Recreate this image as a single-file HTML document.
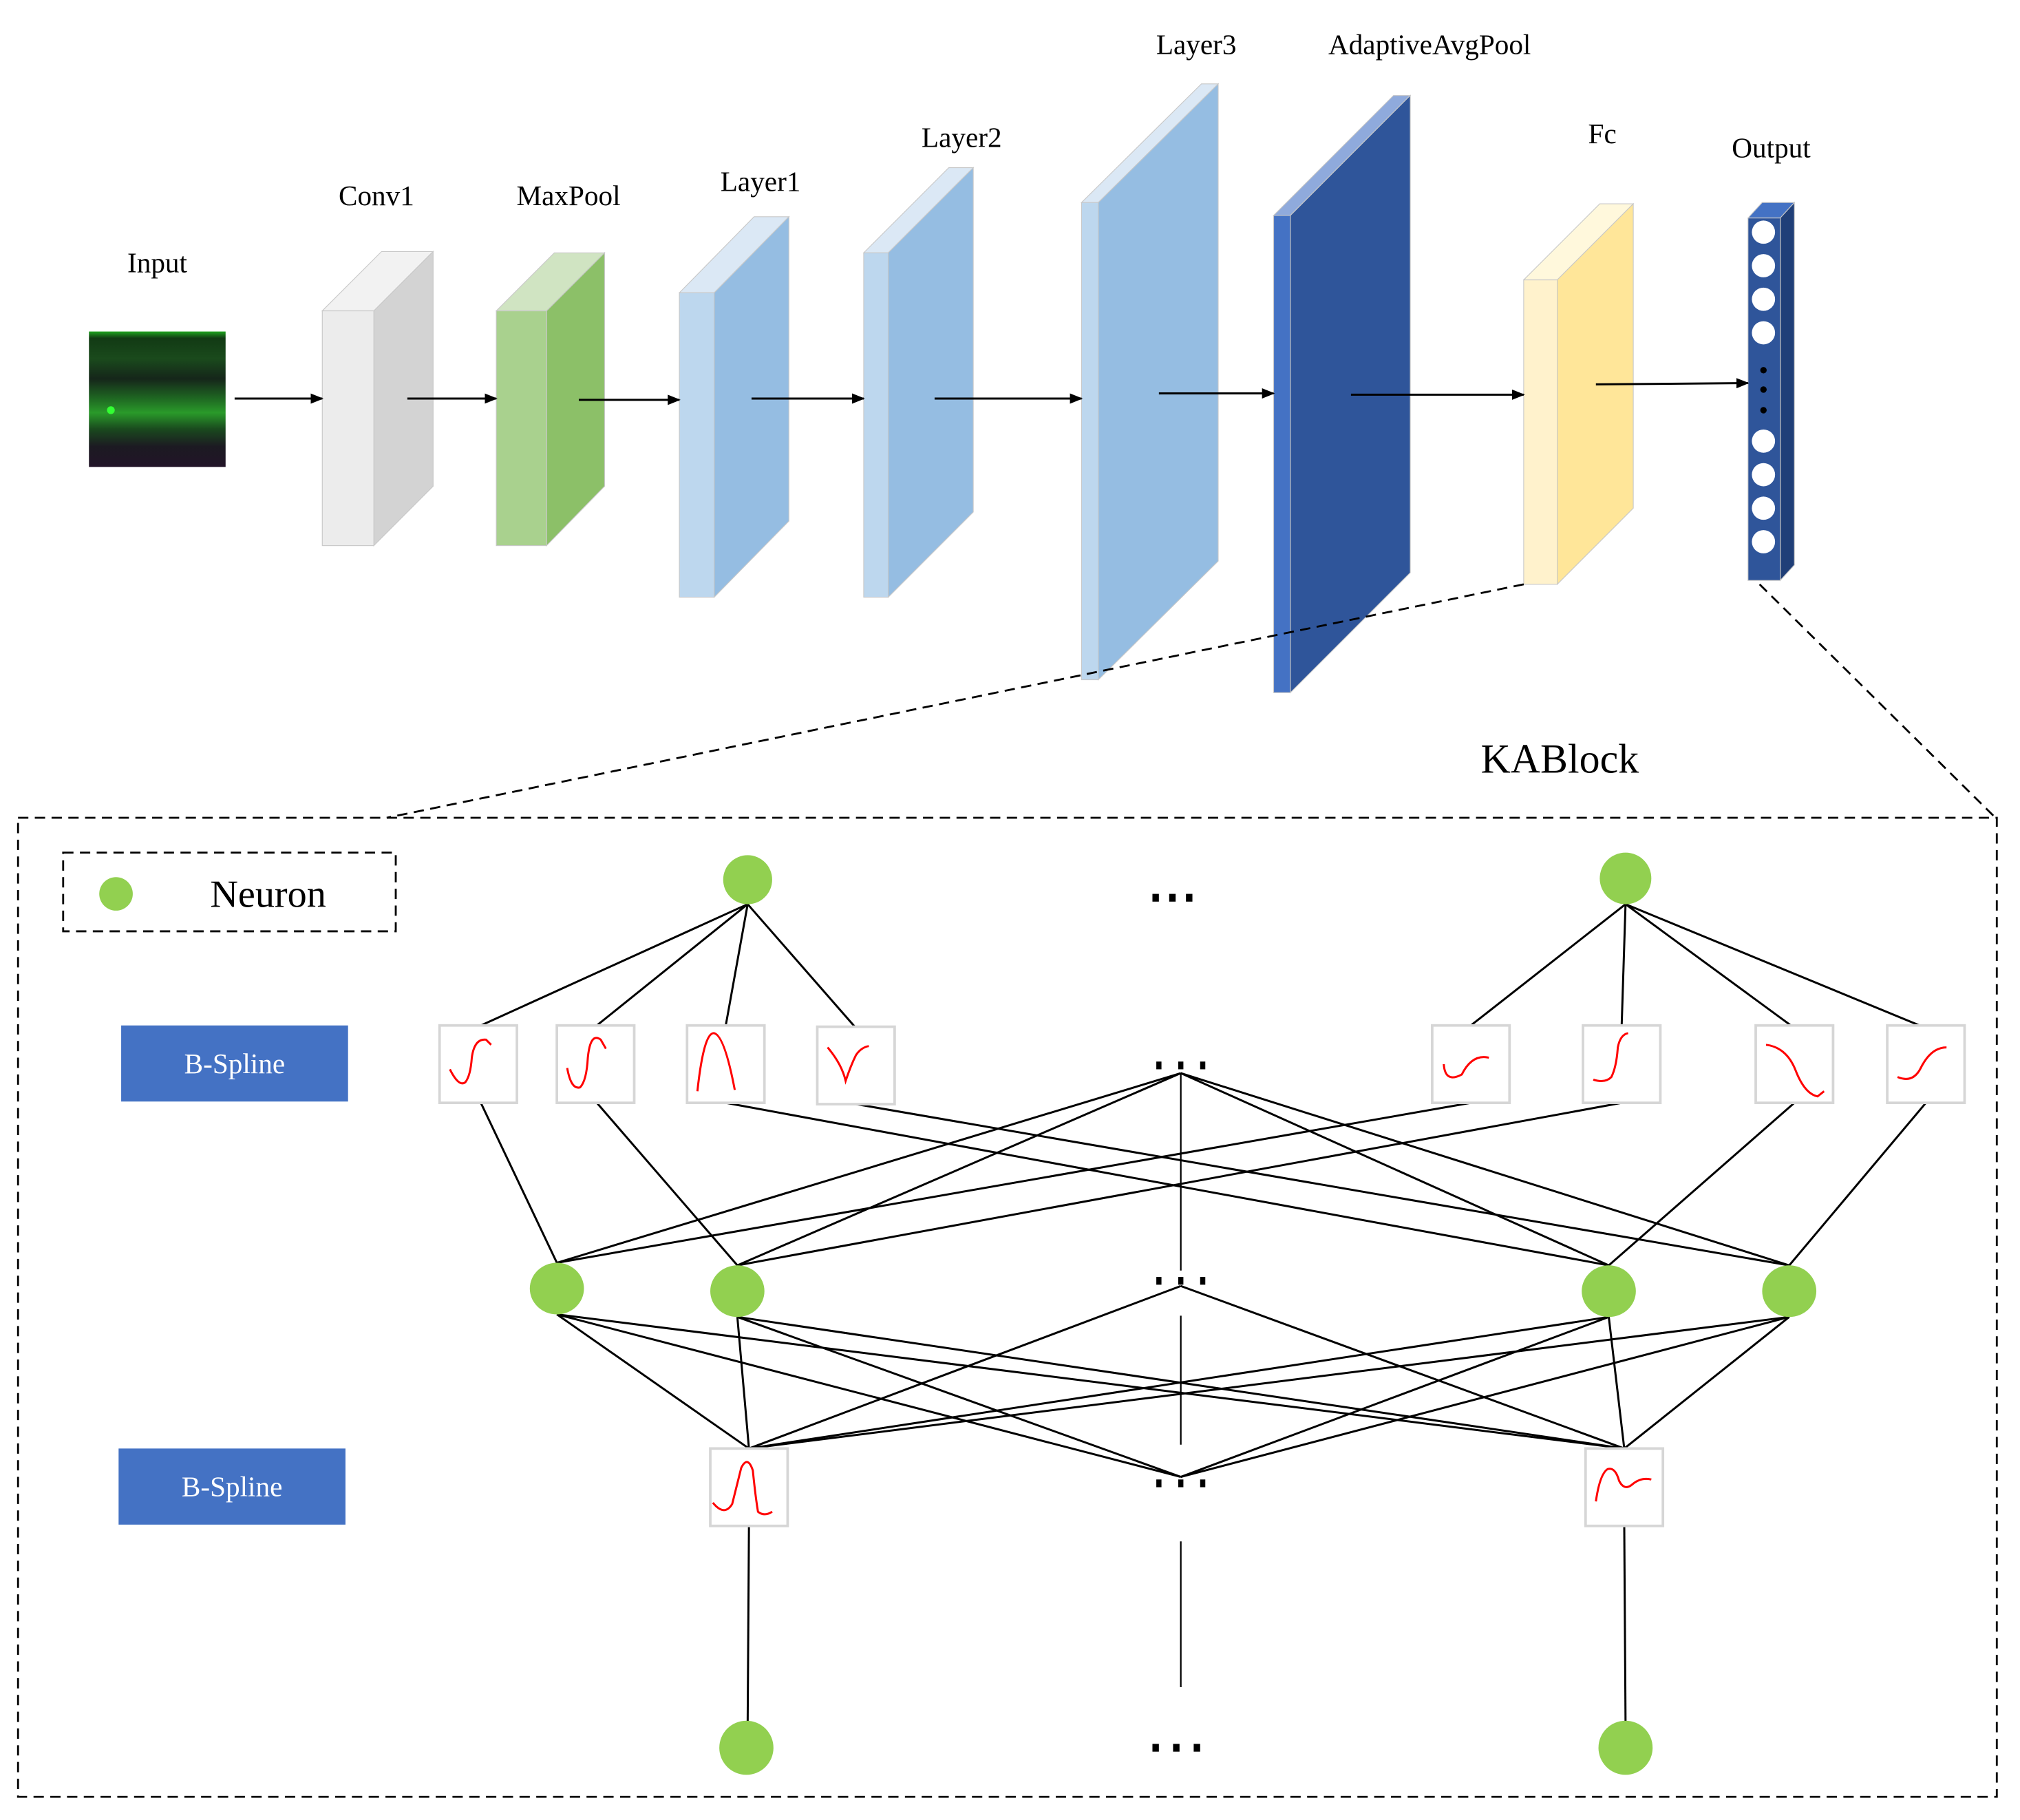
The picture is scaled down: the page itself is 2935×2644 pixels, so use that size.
<!DOCTYPE html>
<html><head><meta charset="utf-8"><style>html,body{margin:0;padding:0;background:#fff}svg{display:block}</style></head><body>
<svg width="2935" height="2644" viewBox="0 0 1567 1411" preserveAspectRatio="none" xmlns="http://www.w3.org/2000/svg" font-family="Liberation Serif, serif">
<defs>
<marker id="ah" markerWidth="10" markerHeight="8" refX="9" refY="4" orient="auto" markerUnits="userSpaceOnUse"><path d="M0,0 L10,4 L0,8 z" fill="#000"/></marker>
<linearGradient id="spec" x1="0" y1="0" x2="0" y2="1">
<stop offset="0" stop-color="#1fa41f"/><stop offset="0.05" stop-color="#123a14"/><stop offset="0.2" stop-color="#1a4a1c"/><stop offset="0.35" stop-color="#15261a"/><stop offset="0.5" stop-color="#1f6a22"/><stop offset="0.6" stop-color="#2a9a2a"/><stop offset="0.72" stop-color="#1a4a1e"/><stop offset="0.85" stop-color="#1c1a22"/><stop offset="1" stop-color="#221428"/></linearGradient>
</defs>
<rect x="69" y="257" width="106" height="105" fill="url(#spec)"/>
<circle cx="86" cy="318" r="3" fill="#3f3"/>
<g font-size="22" text-anchor="middle" fill="#000">
<text x="122" y="211">Input</text><text x="292" y="159">Conv1</text><text x="441" y="159">MaxPool</text>
<text x="590" y="148">Layer1</text><text x="746" y="114">Layer2</text><text x="928" y="42">Layer3</text>
<text x="1109" y="42">AdaptiveAvgPool</text><text x="1243" y="111">Fc</text><text x="1374" y="122">Output</text>
</g>
<g stroke="#c8c8c8" stroke-width="0.6">
<polygon points="250,241 290,241 336,195 296,195" fill="#f2f2f2"/><polygon points="290,241 336,195 336,377 290,423" fill="#d3d3d3"/><rect x="250" y="241" width="40" height="182" fill="#ececec"/>
<polygon points="385,241 424,241 469,196 430,196" fill="#d0e4c2"/><polygon points="424,241 469,196 469,377 424,423" fill="#8cc068"/><rect x="385" y="241" width="39" height="182" fill="#a9d18e"/>
<polygon points="527,227 554,227 612,168 585,168" fill="#dbe8f5"/><polygon points="554,227 612,168 612,404 554,463" fill="#95bde2"/><rect x="527" y="227" width="27" height="236" fill="#bdd7ee"/>
<polygon points="670,196 689,196 755,130 736,130" fill="#dbe8f5"/><polygon points="689,196 755,130 755,397 689,463" fill="#95bde2"/><rect x="670" y="196" width="19" height="267" fill="#bdd7ee"/>
<polygon points="839,157 852,157 945,65 932,65" fill="#dbe8f5"/><polygon points="852,157 945,65 945,435 852,527" fill="#95bde2"/><rect x="839" y="157" width="13" height="370" fill="#bdd7ee"/>
<polygon points="988,167 1001,167 1094,74 1081,74" fill="#8faadc"/><polygon points="1001,167 1094,74 1094,444 1001,537" fill="#2f559a"/><rect x="988" y="167" width="13" height="370" fill="#4472c4"/>
<polygon points="1182,217 1208,217 1267,158 1241,158" fill="#fff8dc"/><polygon points="1208,217 1267,158 1267,394 1208,453" fill="#ffe699"/><rect x="1182" y="217" width="26" height="236" fill="#fff2cc"/>
<polygon points="1356,169 1381,169 1392,157 1367,157" fill="#4472c4"/><polygon points="1381,169 1392,157 1392,438 1381,450" fill="#203f78"/><rect x="1356" y="169" width="25" height="281" fill="#2f559a"/>
</g>
<g fill="#fff"><circle cx="1368" cy="180" r="9"/><circle cx="1368" cy="206" r="9"/><circle cx="1368" cy="232" r="9"/><circle cx="1368" cy="258" r="9"/><circle cx="1368" cy="342" r="9"/><circle cx="1368" cy="368" r="9"/><circle cx="1368" cy="394" r="9"/><circle cx="1368" cy="420" r="9"/></g>
<g fill="#000"><circle cx="1368" cy="287" r="2.5"/><circle cx="1368" cy="302" r="2.5"/><circle cx="1368" cy="318" r="2.5"/></g>
<g stroke="#000" stroke-width="1.6" marker-end="url(#ah)">
<line x1="182" y1="309" x2="250" y2="309"/><line x1="316" y1="309" x2="385" y2="309"/><line x1="449" y1="310" x2="527" y2="310"/>
<line x1="583" y1="309" x2="670" y2="309"/><line x1="725" y1="309" x2="839" y2="309"/><line x1="899" y1="305" x2="988" y2="305"/>
<line x1="1048" y1="306" x2="1182" y2="306"/><line x1="1238" y1="298" x2="1356" y2="297"/>
</g>
<g stroke="#000" stroke-width="1.5" stroke-dasharray="8,5" fill="none">
<line x1="1182" y1="453" x2="300" y2="634"/><line x1="1365" y1="453" x2="1548" y2="634"/>
<rect x="14" y="634" width="1535" height="759"/><rect x="49" y="661" width="258" height="61"/>
</g>
<text x="1210" y="599" font-size="32" text-anchor="middle">KABlock</text>
<circle cx="90" cy="693" r="13" fill="#92d050"/><text x="208" y="703" font-size="30" text-anchor="middle">Neuron</text>
<rect x="94" y="795" width="176" height="59" fill="#4472c4"/><text x="182" y="832" font-size="22" fill="#fff" text-anchor="middle">B-Spline</text>
<rect x="92" y="1123" width="176" height="59" fill="#4472c4"/><text x="180" y="1160" font-size="22" fill="#fff" text-anchor="middle">B-Spline</text>
<g stroke="#000" stroke-width="1.6" fill="none">
<line x1="580" y1="701" x2="373" y2="795"/><line x1="580" y1="701" x2="463" y2="795"/><line x1="580" y1="701" x2="563" y2="795"/><line x1="580" y1="701" x2="664" y2="797"/>
<line x1="1261" y1="701" x2="1141" y2="795"/><line x1="1261" y1="701" x2="1258" y2="795"/><line x1="1261" y1="701" x2="1392" y2="797"/><line x1="1261" y1="701" x2="1494" y2="797"/>
<line x1="373" y1="855" x2="432" y2="979"/><line x1="463" y1="855" x2="572" y2="981"/><line x1="563" y1="855" x2="1248" y2="981"/><line x1="664" y1="856" x2="1388" y2="981"/>
<line x1="1141" y1="855" x2="432" y2="979"/><line x1="1258" y1="855" x2="572" y2="981"/><line x1="1392" y1="855" x2="1248" y2="981"/><line x1="1494" y1="855" x2="1388" y2="981"/>
<line x1="916" y1="832" x2="432" y2="979"/><line x1="916" y1="832" x2="572" y2="981"/><line x1="916" y1="832" x2="1248" y2="981"/><line x1="916" y1="832" x2="1388" y2="981"/>
<line x1="916" y1="832" x2="916" y2="985" stroke-width="1.2"/>
<line x1="916" y1="997" x2="581" y2="1123"/><line x1="916" y1="997" x2="1260" y2="1123"/>
<line x1="916" y1="1020" x2="916" y2="1120" stroke-width="1.2"/>
<line x1="432" y1="1019" x2="581" y2="1123"/><line x1="432" y1="1019" x2="1260" y2="1123"/><line x1="432" y1="1019" x2="916" y2="1145"/>
<line x1="572" y1="1021" x2="581" y2="1123"/><line x1="572" y1="1021" x2="1260" y2="1123"/><line x1="572" y1="1021" x2="916" y2="1145"/>
<line x1="1248" y1="1021" x2="581" y2="1123"/><line x1="1248" y1="1021" x2="1260" y2="1123"/><line x1="1248" y1="1021" x2="916" y2="1145"/>
<line x1="1388" y1="1021" x2="581" y2="1123"/><line x1="1388" y1="1021" x2="1260" y2="1123"/><line x1="1388" y1="1021" x2="916" y2="1145"/>
<line x1="581" y1="1183" x2="580" y2="1335"/><line x1="1260" y1="1183" x2="1261" y2="1335"/>
<line x1="916" y1="1195" x2="916" y2="1308" stroke-width="1.2"/>
</g>
<g fill="#fff" stroke="#d6d6d6" stroke-width="2">
<rect x="341" y="795" width="60" height="60"/><rect x="432" y="795" width="60" height="60"/><rect x="533" y="795" width="60" height="60"/><rect x="634" y="796" width="60" height="60"/>
<rect x="1111" y="795" width="60" height="60"/><rect x="1228" y="795" width="60" height="60"/><rect x="1362" y="795" width="60" height="60"/><rect x="1464" y="795" width="60" height="60"/>
<rect x="551" y="1123" width="60" height="60"/><rect x="1230" y="1123" width="60" height="60"/>
</g>
<g stroke="#f00" stroke-width="1.6" fill="none">
<path d="M349,829 Q356,843 361,839 Q365,834 366,820 Q368,805 377,806 L381,810"/>
<path d="M440,828 Q443,845 450,843 Q455,838 456,820 Q458,800 466,806 L470,813"/>
<path d="M541,846 Q546,800 554,801 Q562,803 570,845"/>
<path d="M642,812 Q653,825 656,838 Q660,826 664,818 Q668,812 674,811"/>
<path d="M1120,825 Q1121,840 1134,833 Q1142,817 1155,820"/>
<path d="M1236,837 Q1245,840 1250,835 Q1254,827 1255,812 Q1257,802 1263,801"/>
<path d="M1370,810 Q1386,812 1393,830 Q1400,848 1410,850 L1415,846"/>
<path d="M1472,835 Q1484,840 1490,828 Q1498,812 1510,812"/>
<path d="M553,1165 Q562,1176 568,1166 Q572,1150 575,1138 Q580,1128 584,1140 Q586,1160 588,1172 Q593,1176 599,1172"/>
<path d="M1238,1164 Q1241,1143 1247,1139 Q1253,1137 1256,1148 Q1260,1156 1266,1151 Q1273,1145 1281,1147"/>
</g>
<g fill="#92d050">
<circle cx="580" cy="682" r="19"/><circle cx="1261" cy="681" r="20"/>
<ellipse cx="432" cy="999" rx="21" ry="20"/><ellipse cx="572" cy="1001" rx="21" ry="20"/><ellipse cx="1248" cy="1001" rx="21" ry="20"/><ellipse cx="1388" cy="1001" rx="21" ry="20"/>
<circle cx="579" cy="1355" r="21"/><circle cx="1261" cy="1355" r="21"/>
</g>
<g fill="#000">
<rect x="894" y="693" width="5" height="6"/><rect x="907" y="693" width="5" height="6"/><rect x="920" y="693" width="5" height="6"/>
<rect x="897" y="823" width="4" height="6"/><rect x="914" y="823" width="4" height="6"/><rect x="931" y="823" width="4" height="6"/>
<rect x="897" y="990" width="4" height="6"/><rect x="914" y="990" width="4" height="6"/><rect x="931" y="990" width="4" height="6"/>
<rect x="897" y="1147" width="4" height="6"/><rect x="914" y="1147" width="4" height="6"/><rect x="931" y="1147" width="4" height="6"/>
<rect x="894" y="1352" width="5" height="6"/><rect x="910" y="1352" width="5" height="6"/><rect x="926" y="1352" width="5" height="6"/>
</g>
</svg>
</body></html>
